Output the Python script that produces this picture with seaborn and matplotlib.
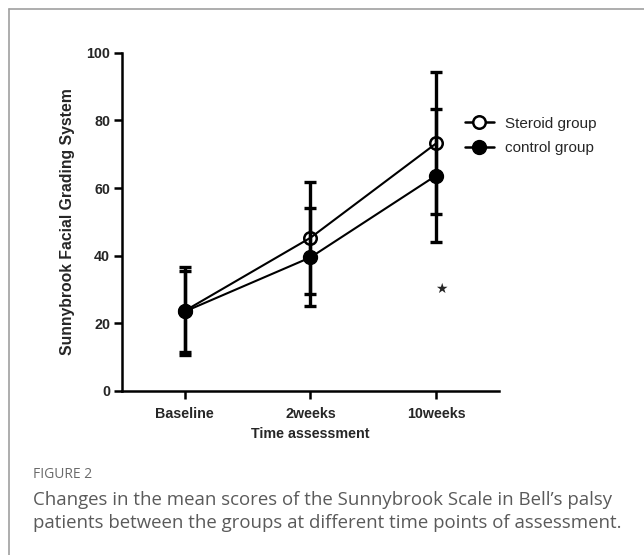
import matplotlib
matplotlib.use("Agg")
import matplotlib.pyplot as plt
from matplotlib.lines import Line2D
import seaborn as sns
import pandas as pd

# ---- data ----
timepoints = ["Baseline", "2weeks", "10weeks"]
steroid_mean = [23.7, 45.3, 73.2]
steroid_sd = [13.0, 16.6, 21.0]
control_mean = [23.5, 39.5, 63.7]
control_sd = [12.0, 14.5, 19.6]
group_names = ["Steroid group", "control group"]
yticks = [0, 20, 40, 60, 80, 100]
star_pos = (2.04, 30.3)

sns.set_style("white")
plt.rcParams["font.family"] = ["Liberation Sans", "DejaVu Sans"]

df = pd.DataFrame({
    "time": timepoints * 2,
    "score": steroid_mean + control_mean,
    "sd": steroid_sd + control_sd,
    "group": [group_names[0]] * 3 + [group_names[1]] * 3,
})

fig = plt.figure(figsize=(6.44, 5.55), dpi=100)
ax = fig.add_axes([122 / 644, 1 - 391 / 555, (499 - 122) / 644, (391 - 52.7) / 555])

# error bars
for g in group_names:
    sub = df[df["group"] == g]
    xs = [timepoints.index(t) for t in sub["time"]]
    ax.errorbar(xs, sub["score"], yerr=sub["sd"], fmt="none", ecolor="black",
                elinewidth=2.4, capsize=4.5, capthick=2.4, zorder=2)

# lines via seaborn
sns.lineplot(data=df, x="time", y="score", hue="group", style="group",
             palette=["black", "black"], markers=["o", "o"], dashes=False,
             linewidth=1.5, markersize=0, legend=False, ax=ax, zorder=3)
s = df[df["group"] == group_names[0]]
c = df[df["group"] == group_names[1]]
ax.plot([timepoints.index(t) for t in c["time"]], c["score"], "o", color="black",
        markersize=10, zorder=4)
ax.plot([timepoints.index(t) for t in s["time"]], s["score"], "o", mfc="none",
        mec="black", mew=1.8, markersize=9, zorder=5)

ax.set_xlim(-0.5, 2.5)
ax.set_ylim(0, 100)
ax.set_yticks(yticks)
ax.set_xticks(range(len(timepoints)))
ax.set_xticklabels(timepoints)
for sp in ["top", "right"]:
    ax.spines[sp].set_visible(False)
for sp in ["left", "bottom"]:
    ax.spines[sp].set_linewidth(1.8)
    ax.spines[sp].set_color("black")
ax.tick_params(axis="both", which="major", direction="out", length=5.5, width=1.8,
               color="black", labelsize=10.3, left=True, bottom=True)
ax.tick_params(axis="x", pad=6)
ax.tick_params(axis="y", pad=3)
for lab in ax.get_xticklabels() + ax.get_yticklabels():
    lab.set_fontweight("bold")
ax.set_xlabel("Time assessment", fontsize=10.3, fontweight="bold", labelpad=4)
ax.set_ylabel("Sunnybrook Facial Grading System", fontsize=11.3, fontweight="bold", labelpad=8)

ax.text(star_pos[0], star_pos[1], "★", family="DejaVu Sans", fontsize=10,
        ha="center", va="center")

handles = [
    Line2D([], [], color="black", lw=1.8, marker="o", mfc="white", mec="black",
           mew=1.8, markersize=9),
    Line2D([], [], color="black", lw=1.8, marker="o", mfc="black", mec="black",
           markersize=10),
]
fig.legend(handles, group_names, loc="upper left", bbox_to_anchor=(451 / 644, 1 - 103 / 555),
           frameon=False, fontsize=11, handlelength=1.9, handletextpad=0.75,
           labelspacing=0.7)

# frame border
fig.add_artist(Line2D([9 / 644, 9 / 644], [0, 1 - 9 / 555], color="#a0a0a0", lw=1.2))
fig.add_artist(Line2D([9 / 644, 1], [1 - 9 / 555, 1 - 9 / 555], color="#a0a0a0", lw=1.2))

fig.text(33 / 644, 1 - 475 / 555, "FIGURE 2", family=["Open Sans", "DejaVu Sans"],
         fontsize=10, color="#6a6a6a", va="center", ha="left")
fig.text(33 / 644, 1 - 500 / 555,
         "Changes in the mean scores of the Sunnybrook Scale in Bell\u2019s palsy",
         family=["Open Sans", "DejaVu Sans"], fontsize=13.4, color="#5a5a5a",
         va="center", ha="left")
fig.text(33 / 644, 1 - 523 / 555,
         "patients between the groups at different time points of assessment.",
         family=["Open Sans", "DejaVu Sans"], fontsize=13.4, color="#5a5a5a",
         va="center", ha="left")

fig.savefig("out.png", dpi=100)
